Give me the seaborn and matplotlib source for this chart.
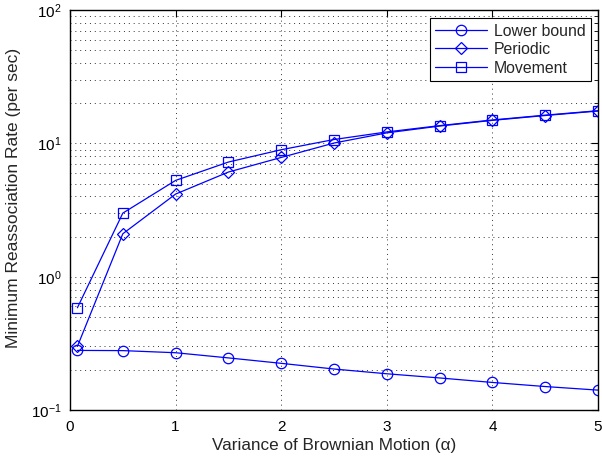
import numpy as np
import pandas as pd
import matplotlib
matplotlib.use("Agg")
import matplotlib.pyplot as plt
import seaborn as sns
from matplotlib.ticker import LogLocator, NullFormatter

x_vals = [0.07, 0.5, 1.0, 1.5, 2.0, 2.5, 3.0, 3.5, 4.0, 4.5, 5.0]
lower_bound = [0.28, 0.279, 0.269, 0.246, 0.224, 0.203, 0.187, 0.174, 0.161, 0.150, 0.141]
periodic = [0.30, 2.1, 4.17, 6.1, 7.85, 10.07, 12.0, 13.5, 14.9, 16.2, 17.5]
movement = [0.585, 3.0, 5.28, 7.25, 8.97, 10.7, 12.2, 13.6, 15.0, 16.3, 17.6]
series_names = ["Lower bound", "Periodic", "Movement"]
series_markers = ["o", "D", "s"]

sns.set_style("white")
plt.rcParams["font.family"] = ["Liberation Sans", "DejaVu Sans"]
plt.rcParams["mathtext.fontset"] = "custom"
plt.rcParams["mathtext.rm"] = "Liberation Sans"
plt.rcParams["mathtext.it"] = "Liberation Sans:italic"

fig = plt.figure(figsize=(6.02, 4.61), dpi=100)
ax = fig.add_axes([0.1163, 0.1106, 0.8771, 0.8674])

df = pd.DataFrame({"x": x_vals * 3,
                   "y": lower_bound + periodic + movement,
                   "series": sum([[n] * len(x_vals) for n in series_names], [])})

for name, mk in zip(series_names, series_markers):
    sub = df[df["series"] == name]
    ms = 6 if mk == "D" else (7.5 if mk == "o" else 7)
    sns.lineplot(data=sub, x="x", y="y", ax=ax, color="blue", lw=0.9,
                 marker=mk, markersize=ms, markerfacecolor="none",
                 markeredgecolor="blue", markeredgewidth=0.9, label=name)

ax.set_yscale("log")
ax.set_xlim(0, 5)
ax.set_ylim(0.1, 100)
ax.set_xticks([0, 1, 2, 3, 4, 5])
ax.yaxis.set_minor_locator(LogLocator(base=10, subs=np.arange(2, 10)))
ax.yaxis.set_minor_formatter(NullFormatter())

ax.grid(True, which="major", axis="both", linestyle=(0, (1, 4)), color="#333333", lw=0.7)
ax.grid(True, which="minor", axis="y", linestyle=(0, (1, 4)), color="#333333", lw=0.7)

ax.tick_params(axis="both", which="both", direction="in", top=True, right=True,
               labelsize=11, colors="black")
ax.tick_params(axis="x", which="major", pad=7)
ax.tick_params(axis="y", which="major", pad=6)
ax.tick_params(which="major", length=5, width=0.8)
ax.tick_params(which="minor", length=3, width=0.6)
for s in ax.spines.values():
    s.set_color("black")
    s.set_linewidth(1.0)

ax.set_xlabel("Variance of Brownian Motion (α)", fontsize=12.3, labelpad=3)
ax.set_ylabel("Minimum Reassociation Rate (per sec)", fontsize=12.5)
ax.yaxis.set_label_coords(-0.092, 0.53)

leg = ax.legend(loc="upper right", fontsize=11.4, frameon=True, fancybox=False,
                edgecolor="black", framealpha=1, borderpad=0.35, handlelength=3.3,
                handletextpad=0.4, labelspacing=0.22, borderaxespad=0.0,
                bbox_to_anchor=(591 / 602, 1 - 18 / 461), bbox_transform=fig.transFigure)
leg.get_frame().set_linewidth(0.8)

fig.savefig("out.png", dpi=100, facecolor="white")
